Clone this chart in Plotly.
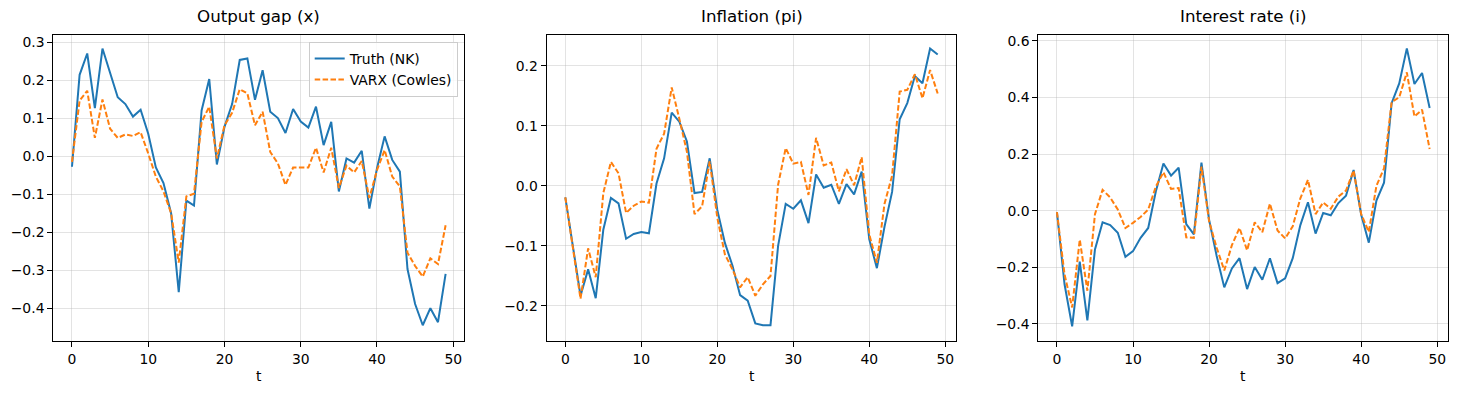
import plotly.graph_objects as go

t = list(range(50))

x_truth = [-0.028, 0.214, 0.27, 0.126, 0.283, 0.222, 0.155, 0.137, 0.104, 0.122,
           0.059, -0.03, -0.071, -0.15, -0.358, -0.117, -0.13, 0.12, 0.203, -0.022,
           0.077, 0.137, 0.253, 0.257, 0.148, 0.226, 0.117, 0.1, 0.061, 0.124,
           0.091, 0.075, 0.13, 0.029, 0.09, -0.093, -0.006, -0.017, 0.014, -0.138,
           -0.032, 0.052, -0.01, -0.041, -0.297, -0.389, -0.445, -0.4, -0.437, -0.31]
x_varx = [-0.015, 0.146, 0.172, 0.048, 0.149, 0.072, 0.048, 0.057, 0.053, 0.063,
          0.007, -0.054, -0.093, -0.15, -0.28, -0.106, -0.099, 0.09, 0.13, -0.006,
          0.081, 0.114, 0.176, 0.165, 0.081, 0.117, 0.011, -0.019, -0.076, -0.03,
          -0.03, -0.03, 0.022, -0.043, 0.022, -0.084, -0.025, -0.043, -0.013, -0.11,
          -0.037, 0.016, -0.054, -0.08, -0.254, -0.289, -0.317, -0.269, -0.284, -0.182]

pi_truth = [-0.019, -0.1, -0.183, -0.139, -0.187, -0.073, -0.02, -0.029, -0.088, -0.08,
            -0.077, -0.079, 0.004, 0.046, 0.122, 0.107, 0.074, -0.012, -0.01, 0.046,
            -0.04, -0.095, -0.133, -0.182, -0.191, -0.229, -0.232, -0.232, -0.1, -0.03,
            -0.038, -0.024, -0.062, 0.019, -0.003, 0.002, -0.03, 0.003, -0.014, 0.024,
            -0.089, -0.137, -0.068, -0.01, 0.111, 0.138, 0.183, 0.171, 0.229, 0.219]
pi_varx = [-0.019, -0.1, -0.188, -0.104, -0.152, -0.012, 0.04, 0.021, -0.045, -0.033,
           -0.026, -0.028, 0.062, 0.087, 0.164, 0.112, 0.057, -0.047, -0.034, 0.041,
           -0.053, -0.114, -0.139, -0.169, -0.152, -0.183, -0.164, -0.15, 0.002, 0.063,
           0.037, 0.04, -0.015, 0.08, 0.034, 0.039, -0.009, 0.028, 0.001, 0.048,
           -0.081, -0.128, -0.03, 0.017, 0.157, 0.16, 0.186, 0.146, 0.193, 0.154]

i_truth = [-0.005, -0.26, -0.409, -0.18, -0.388, -0.137, -0.041, -0.051, -0.078, -0.163,
           -0.143, -0.096, -0.061, 0.068, 0.167, 0.124, 0.152, -0.047, -0.084, 0.17,
           -0.032, -0.16, -0.271, -0.204, -0.168, -0.277, -0.199, -0.244, -0.168, -0.256,
           -0.239, -0.168, -0.051, 0.03, -0.081, -0.008, -0.016, 0.027, 0.053, 0.144,
           -0.014, -0.113, 0.036, 0.099, 0.38, 0.45, 0.574, 0.448, 0.487, 0.363]
i_varx = [-0.005, -0.225, -0.342, -0.102, -0.283, -0.012, 0.074, 0.047, 0.004, -0.061,
          -0.043, -0.022, 0.004, 0.085, 0.136, 0.077, 0.08, -0.094, -0.096, 0.156,
          -0.037, -0.131, -0.211, -0.122, -0.061, -0.14, -0.041, -0.076, 0.025, -0.07,
          -0.098, -0.055, 0.044, 0.109, -0.012, 0.029, 0.007, 0.05, 0.071, 0.142,
          -0.012, -0.075, 0.088, 0.15, 0.384, 0.401, 0.489, 0.333, 0.357, 0.218]

titles = ["Output gap (x)", "Inflation (pi)", "Interest rate (i)"]
series_names = ["Truth (NK)", "VARX (Cowles)"]
panels = [(x_truth, x_varx), (pi_truth, pi_varx), (i_truth, i_varx)]
yticks = [[-0.4, -0.3, -0.2, -0.1, 0.0, 0.1, 0.2, 0.3],
          [-0.2, -0.1, 0.0, 0.1, 0.2],
          [-0.4, -0.2, 0.0, 0.2, 0.4, 0.6]]
yranges = [[-0.4867, 0.3175], [-0.2585, 0.2506], [-0.461, 0.6196]]
xticks = [0, 10, 20, 30, 40, 50]

W, H = 1458, 393
xdoms = [[53.3 / W, 464.3 / W], [546.7 / W, 956.3 / W], [1038.3 / W, 1448.3 / W]]
ydom = [1 - 340.7 / H, 1 - 32.7 / H]

BLUE = "#1f77b4"
ORANGE = "#ff7f0e"
FONT = "DejaVu Sans"

fig = go.Figure()
for k, (tr, vx) in enumerate(panels):
    sfx = "" if k == 0 else str(k + 1)
    fig.add_trace(go.Scatter(x=t, y=tr, mode="lines", name=series_names[0],
                             line=dict(color=BLUE, width=2),
                             xaxis="x" + sfx, yaxis="y" + sfx, showlegend=(k == 0)))
    fig.add_trace(go.Scatter(x=t, y=vx, mode="lines", name=series_names[1],
                             line=dict(color=ORANGE, width=2, dash="5.5px,2.4px"),
                             xaxis="x" + sfx, yaxis="y" + sfx, showlegend=(k == 0)))

axis_common = dict(showline=True, mirror=True, linecolor="black", linewidth=1.1,
                   ticks="outside", ticklen=5, tickwidth=1.1, tickcolor="black",
                   showgrid=True, gridcolor="rgba(176,176,176,0.35)", gridwidth=0.8,
                   zeroline=False, tickfont=dict(family=FONT, size=13.9, color="black"))

layout = dict(width=W, height=H, margin=dict(l=0, r=0, t=0, b=0),
              paper_bgcolor="white", plot_bgcolor="white",
              font=dict(family=FONT, color="black"))
for k in range(3):
    sfx = "" if k == 0 else str(k + 1)
    layout["xaxis" + sfx] = dict(domain=xdoms[k], range=[-2.45, 51.45], tickvals=xticks,
                                 anchor="y" + sfx, **axis_common)
    layout["yaxis" + sfx] = dict(domain=ydom, range=yranges[k], tickvals=yticks[k],
                                 tickformat=".1f", anchor="x" + sfx, **axis_common)

annotations = []
for k in range(3):
    cx = (xdoms[k][0] + xdoms[k][1]) / 2
    annotations.append(dict(text=titles[k], x=cx, y=1 - 13 / H, xref="paper", yref="paper",
                            showarrow=False, xanchor="center", yanchor="middle",
                            font=dict(family=FONT, size=16.7, color="black")))
    annotations.append(dict(text="t", x=cx, y=1 - 376 / H, xref="paper", yref="paper",
                            showarrow=False, xanchor="center", yanchor="middle",
                            font=dict(family=FONT, size=13.9, color="black")))
layout["annotations"] = annotations
layout["legend"] = dict(x=457.7 / W, y=1 - 39.3 / H, xanchor="right", yanchor="top",
                        bgcolor="rgba(255,255,255,0.8)", bordercolor="#cccccc", borderwidth=1,
                        font=dict(family=FONT, size=13.9, color="black"), itemwidth=30,
                        tracegroupgap=0)

fig.update_layout(**layout)
fig.write_html("out.html", config={"displayModeBar": False},
               post_script="document.body.style.margin='0';document.body.style.overflow='hidden';")
